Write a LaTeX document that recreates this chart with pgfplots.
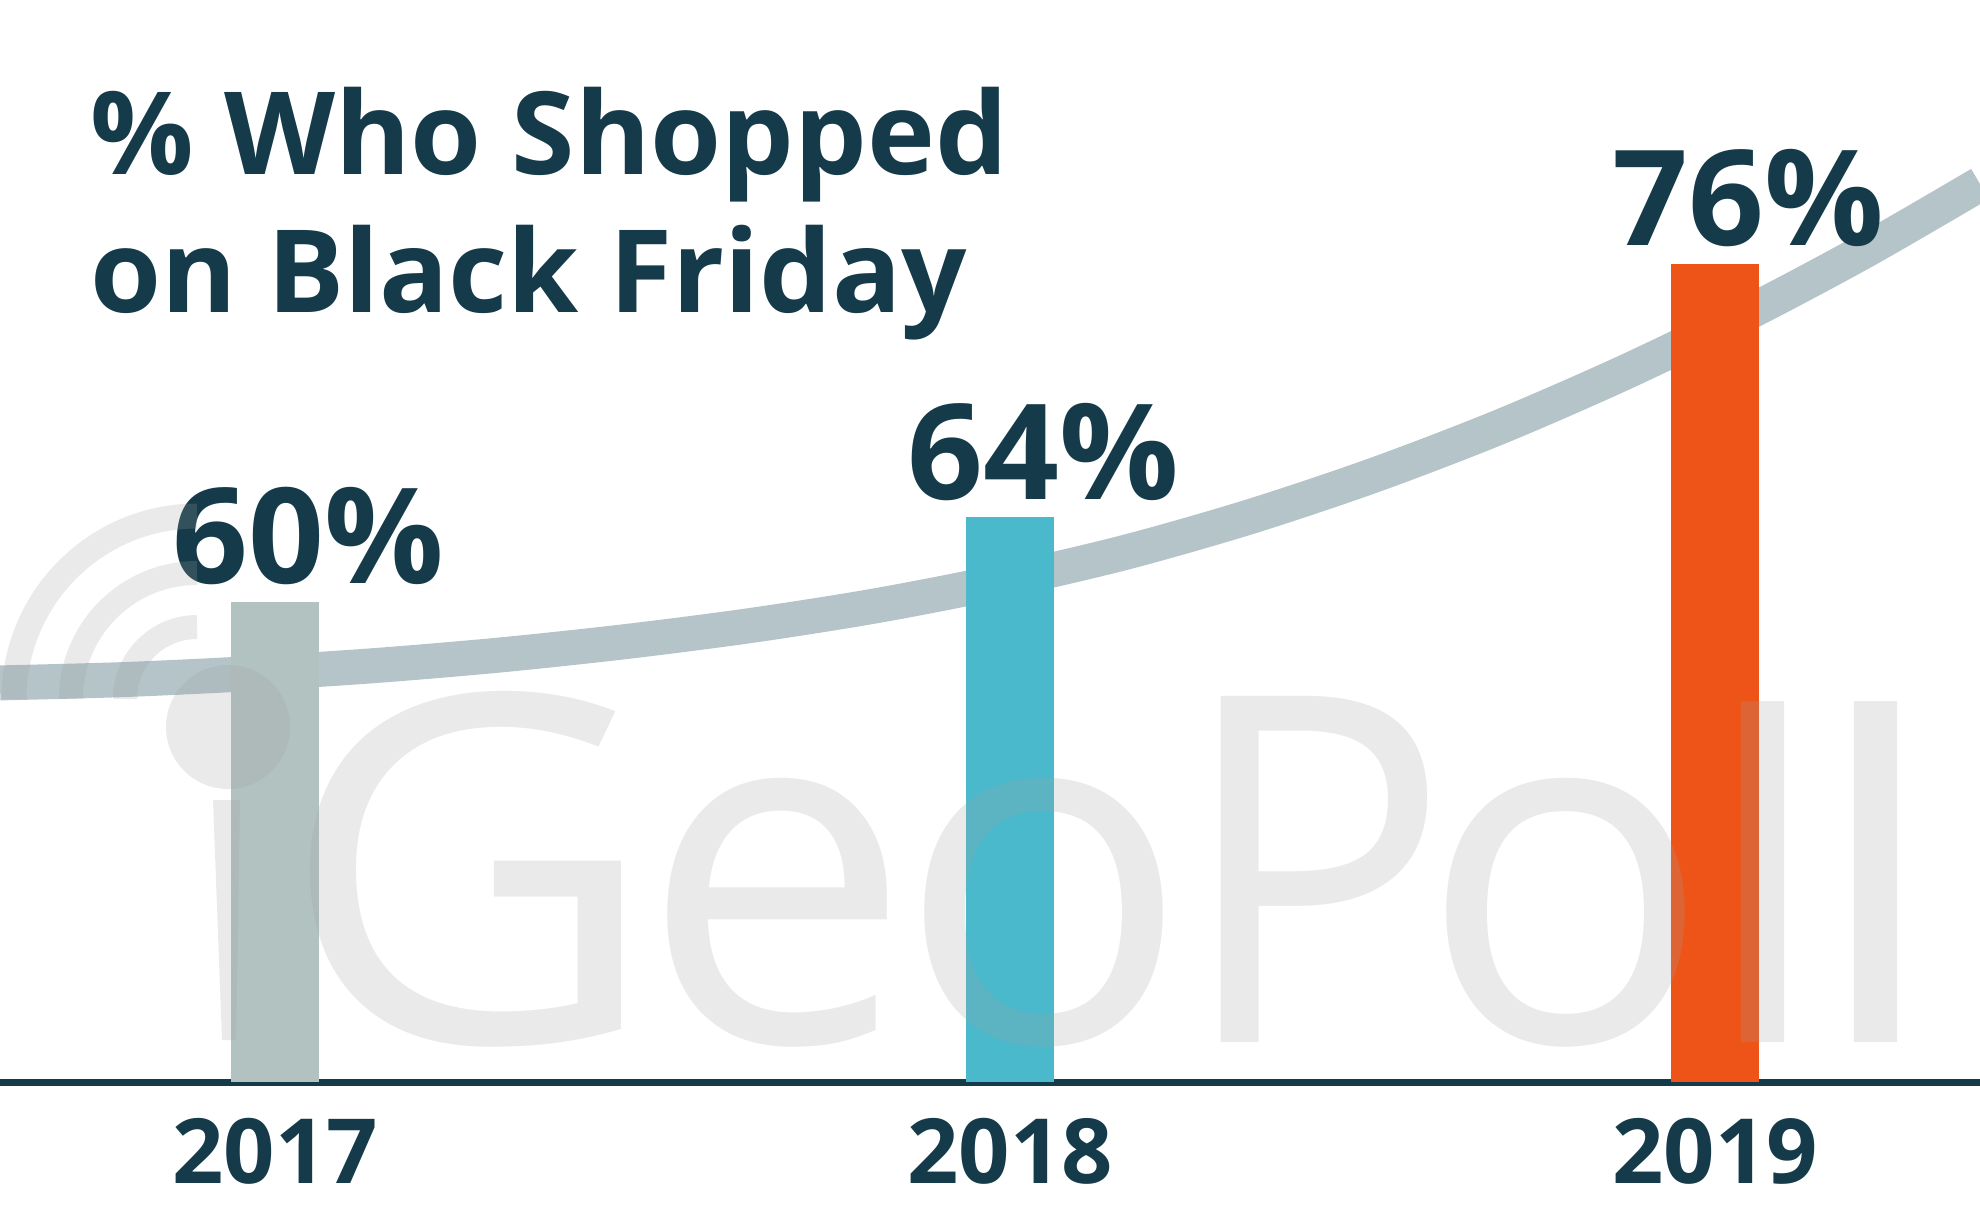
\documentclass[border=0pt]{standalone}
\usepackage{fontspec}
\setmainfont{Open Sans}
\usepackage{graphicx}
\usepackage{pgfplots}
\pgfplotsset{compat=1.18}
\definecolor{navy}{HTML}{153B4A}
\definecolor{bargray}{HTML}{B1C2C1}
\definecolor{barcyan}{HTML}{4AB9CC}
\definecolor{barorange}{HTML}{EE5417}
\definecolor{band}{HTML}{B4C4C8}
\definecolor{wm}{RGB}{160,160,160}
\pgfplotsset{
  mybar/.style={ybar, bar width=88, bar shift=0pt, draw=none,
    nodes near coords={\pgfmathprintnumber{\pgfplotspointmeta}\%},
    every node near coord/.append style={anchor=base, xshift=3.3mm, yshift=1.8mm,
      font=\fontsize{37.8pt}{45pt}\selectfont\bfseries, text=navy}},
}
\tikzset{wmletter/.style={anchor=base west, inner sep=0, text depth=0pt, text=wm, text opacity=0.22,
  font=\fontsize{138pt}{160pt}\selectfont}}
\begin{document}
\begin{tikzpicture}
\useasboundingbox (0,0) rectangle (19.8cm,12.29cm);
\begin{axis}[
  at={(0,12.29cm)}, anchor=north west,
  width=19.8cm, height=10.82cm, scale only axis,
  xmin=0, xmax=1980, ymin=37.3, ymax=88.46,
  axis x line=bottom, axis y line=none,
  axis line style={line width=0.7mm, draw=navy, -},
  xtick={275,1010,1715}, xticklabels={2017,2018,2019},
  major tick length=0pt,
  xticklabel style={anchor=base, yshift=-10.1mm, font=\fontsize{25.6pt}{30pt}\selectfont\bfseries, text=navy},
  ytick=\empty,
  /pgf/number format/assume math mode=true,
]
% trend band
\addplot[band, line width=3.5mm, smooth, no marks] coordinates {
 (0,56.17) (125,56.33) (250,56.61) (375,56.99) (500,57.49) (625,58.12) (750,58.88)
 (875,59.81) (1000,60.96) (1125,62.34) (1250,64.03) (1375,66.01) (1500,68.28)
 (1625,70.86) (1750,73.72) (1865,76.61) (1980,79.76)};
% bars
\addplot[mybar, fill=bargray] coordinates {(275,60)};
\addplot[mybar, fill=barcyan] coordinates {(1010,64)};
\addplot[mybar, fill=barorange] coordinates {(1715,76)};
\end{axis}
\begin{axis}[
  at={(0,12.29cm)}, anchor=north west,
  width=19.8cm, height=12.29cm, scale only axis,
  xmin=0, xmax=1980, ymin=0, ymax=1229, y dir=reverse,
  hide axis, clip=false,
]
% watermark
\draw[wm, opacity=0.22, line width=2.4mm] (axis cs:125,699) arc[start angle=180,end angle=90,radius=7.2mm];
\draw[wm, opacity=0.22, line width=2.4mm] (axis cs:71,699) arc[start angle=180,end angle=90,radius=12.6mm];
\draw[wm, opacity=0.22, line width=2.5mm] (axis cs:14,699) arc[start angle=180,end angle=90,radius=18.3mm];
\fill[wm, opacity=0.22] (axis cs:228,727) circle[radius=6.2mm];
\fill[wm, opacity=0.22] (axis cs:213,800) -- (axis cs:240,800) -- (axis cs:236,1040) -- (axis cs:222,1040) -- cycle;
\node[wmletter] at (axis cs:278,1042) {\scalebox{1.08}[1]{G}};
\node[wmletter] at (axis cs:640,1042) {e};
\node[wmletter] at (axis cs:897,1042) {o};
\node[wmletter] at (axis cs:1176,1042) {\scalebox{0.94}[1]{P}};
\node[wmletter] at (axis cs:1419,1042) {o};
\node[wmletter] at (axis cs:1695,1042) {\scalebox{1.1}[0.925]{l}};
\node[wmletter] at (axis cs:1808,1042) {\scalebox{1.1}[0.925]{l}};
% title
\node[anchor=base west, inner sep=0, text=navy, font=\fontsize{32.7pt}{39pt}\selectfont\bfseries] at (axis cs:90,174) {\% Who Shopped};
\node[anchor=base west, inner sep=0, text=navy, font=\fontsize{32.7pt}{39pt}\selectfont\bfseries] at (axis cs:90,312) {on Black Friday};
\end{axis}
\end{tikzpicture}
\end{document}
